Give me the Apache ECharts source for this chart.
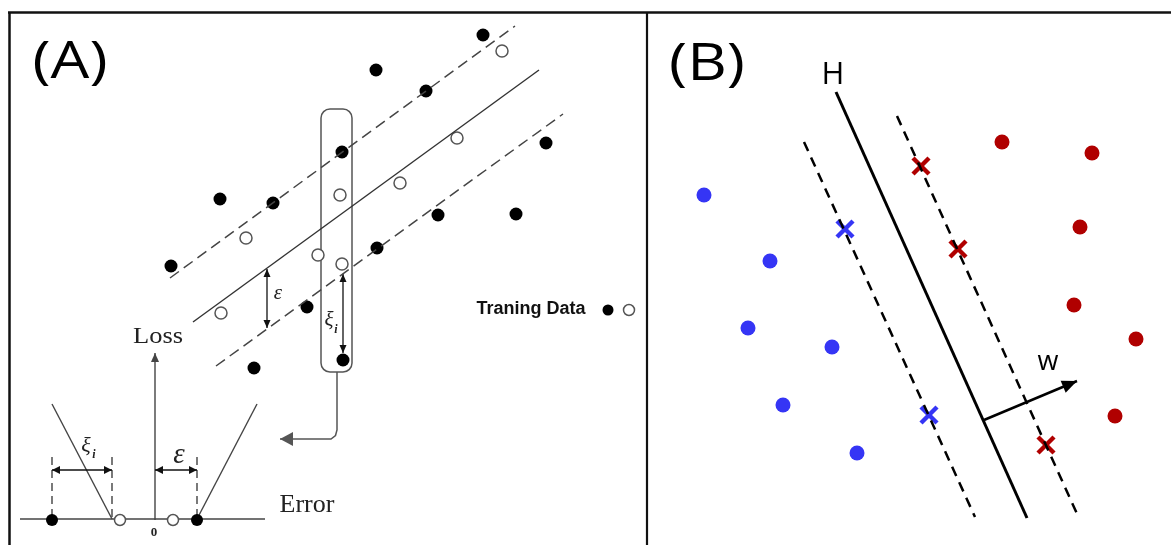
<!DOCTYPE html>
<html><head><meta charset="utf-8">
<script src="https://cdn.jsdelivr.net/npm/echarts@6/dist/echarts.min.js"></script>
<style>html,body{margin:0;padding:0;background:#fff}#c{width:1171px;height:545px}</style>
</head><body><div id="c"></div>
<script>
// ---------- Panel A : regression training data ----------
const filledA = [[376,70],[483,35],[426,91],[342,152],[220,199],[273,203],[171,266],[546,143],[438,215],[516,214],[377,248],[307,307],[254,368],[343,360]];
const openA = [[502,51],[457,138],[400,183],[340,195],[246,238],[318,255],[342,264],[221,313]];
const centerLineA = [[193,322],[539,70]];
const upperLineA = [[170,278],[515,26]];
const lowerLineA = [[216,366],[563,114]];
const highlightBox = [[321,109,352,372]];
const connectorA = [[337,372],[337,430],[335.5,435.5],[331,439],[280,439]];
const epsArrowA = [[267,269],[267,328]];
const xiArrowA = [[343,274],[343,353]];
// ---------- Panel A : loss function inset ----------
const errorAxis = [[20,519],[265,519]];
const lossAxis = [[155,520],[155,353]];
const lossLeft = [[52,404],[112,519]];
const lossRight = [[197,519],[257,404]];
const dashedMarks = [[[52,457],[52,519]],[[112,457],[112,519]],[[197,457],[197,519]]];
const xiArrowLoss = [[52,470],[112,470]];
const epsArrowLoss = [[155,470],[197,470]];
const filledLoss = [[52,520],[197,520]];
const openLoss = [[120,520],[173,520]];
const legendFilled = [[608,310]];
const legendOpen = [[629,310]];
// ---------- Panel B : SVM ----------
const blueDots = [[704,195],[770,261],[748,328],[832,347],[783,405],[857,453]];
const blueCross = [[845,229],[929,415]];
const redDots = [[1002,142],[1092,153],[1080,227],[1074,305],[1136,339],[1115,416]];
const redCross = [[921,166],[958,249],[1046,445]];
const hyperplane = [[836,92],[1027,518]];
const marginLeft = [[804,142],[975,517]];
const marginRight = [[897,116],[1078,516]];
const wArrow = [[984,420],[1077,381]];
// ---------- text labels ----------
const labelTexts = ['(A)','(B)','H','w','Loss','Error','0','ε','ε','ξ','i','ξ','i','Traning Data'];
const labelAnchors = [[70,63],[707,65],[833,75],[1048,362],[158,337],[307,505],[154,533],[278,293],[179,455],[329,320],[336,330],[86,446],[94,455],[531,309]];

const SERIF = '"Liberation Serif","DejaVu Serif",serif';
const SANS = '"Open Sans","Noto Sans",sans-serif';
const labelStyles = [
  {font:'52px '+SANS, sx:1.18},
  {font:'52px '+SANS, sx:1.18},
  {font:'31px '+SANS},
  {font:'27px '+SANS},
  {font:'23px '+SERIF, sx:1.15, color:'#222'},
  {font:'26px '+SERIF, color:'#222'},
  {font:'bold 13px '+SERIF, color:'#222'},
  {font:'italic 21px '+SERIF, color:'#222'},
  {font:'italic 29px '+SERIF, color:'#222'},
  {font:'italic 21px '+SERIF, color:'#222'},
  {font:'italic bold 12px '+SERIF, color:'#222'},
  {font:'italic 22px '+SERIF, color:'#222'},
  {font:'italic bold 12px '+SERIF, color:'#222'},
  {font:'bold 18px "Liberation Sans",Arial,sans-serif', color:'#111'}
];

const GRAY = '#444';
function lineS(data, color, width, dash){
  return {type:'line', data, symbol:'none', silent:true, animation:false,
    lineStyle:{color, width, type: dash || 'solid', opacity:1}};
}
function arrowS(paths, opt){
  return {type:'custom', silent:true, animation:false, clip:false,
    data: paths.map((p,i)=>[p[0][0], p[0][1], i]),
    renderItem:(params, api)=>{
      const pts = paths[api.value(2)].map(p=>api.coord(p));
      const ch = [{type:'polyline', shape:{points:pts}, style:{stroke:opt.color, lineWidth:opt.width, fill:null, lineDash:opt.dash||null}}];
      const head = (tip, from)=>{
        const dx = tip[0]-from[0], dy = tip[1]-from[1], L = Math.hypot(dx,dy);
        const ux = dx/L, uy = dy/L, bx = tip[0]-ux*opt.len, by = tip[1]-uy*opt.len;
        return {type:'polygon', shape:{points:[tip,[bx-uy*opt.hw,by+ux*opt.hw],[bx+uy*opt.hw,by-ux*opt.hw]]}, style:{fill:opt.color}};
      };
      const n = pts.length;
      if(opt.end) ch.push(head(pts[n-1], pts[n-2]));
      if(opt.both) ch.push(head(pts[0], pts[1]));
      return {type:'group', children:ch};
    }};
}
function crossS(data, color){
  return {type:'custom', silent:true, animation:false, clip:false, data,
    renderItem:(params, api)=>{
      const c = api.coord([api.value(0), api.value(1)]), h = 8;
      const st = {stroke:color, lineWidth:4.5};
      return {type:'group', children:[
        {type:'line', shape:{x1:c[0]-h,y1:c[1]-h,x2:c[0]+h,y2:c[1]+h}, style:st},
        {type:'line', shape:{x1:c[0]-h,y1:c[1]+h,x2:c[0]+h,y2:c[1]-h}, style:st}]};
    }};
}
function dotS(data, size, color, open){
  return {type:'scatter', data, symbol:'circle', symbolSize:size, silent:true, animation:false,
    itemStyle: open ? {color:'#fff', borderColor:'#555', borderWidth:1.5, opacity:1} : {color, opacity:1}};
}

const series = [
  // panel A regression lines
  lineS(centerLineA, '#333', 1.4),
  lineS(upperLineA, GRAY, 1.5, [11,6]),
  lineS(lowerLineA, GRAY, 1.5, [11,6]),
  {type:'custom', silent:true, animation:false, clip:false, data:highlightBox,
    renderItem:(params, api)=>{
      const a = api.coord([api.value(0), api.value(1)]), b = api.coord([api.value(2), api.value(3)]);
      return {type:'rect', shape:{x:Math.min(a[0],b[0]), y:Math.min(a[1],b[1]), width:Math.abs(b[0]-a[0]), height:Math.abs(b[1]-a[1]), r:9},
        style:{fill:null, stroke:'#555', lineWidth:1.5}};
    }},
  arrowS([connectorA], {color:'#555', width:1.5, len:13, hw:7, end:true}),
  arrowS([epsArrowA, xiArrowA], {color:'#111', width:1.3, len:8, hw:3.5, end:true, both:true}),
  // loss inset
  arrowS([errorAxis, lossLeft, lossRight], {color:GRAY, width:1.4}),
  arrowS([lossAxis], {color:GRAY, width:1.4, len:9, hw:4, end:true}),
  arrowS(dashedMarks, {color:'#333', width:1.3, dash:[8,5]}),
  arrowS([xiArrowLoss, epsArrowLoss], {color:'#111', width:1.3, len:8, hw:4, end:true, both:true}),
  dotS(filledA, 13, '#000'),
  dotS(openA, 12, null, true),
  dotS(filledLoss, 12, '#000'),
  dotS(openLoss, 11, null, true),
  dotS(legendFilled, 11, '#000'),
  dotS(legendOpen, 11, null, true),
  // panel B
  lineS(marginLeft, '#000', 2.5, [10,7]),
  lineS(marginRight, '#000', 2.5, [10,7]),
  lineS(hyperplane, '#000', 3),
  arrowS([wArrow], {color:'#000', width:2.5, len:15, hw:6.5, end:true}),
  dotS(blueDots, 15, '#3535f5'),
  dotS(redDots, 15, '#b00000'),
  crossS(blueCross, '#3535f5'),
  crossS(redCross, '#b00000'),
  // labels
  {type:'custom', silent:true, animation:false, clip:false,
    data: labelAnchors.map((p,i)=>[p[0], p[1], i]),
    renderItem:(params, api)=>{
      const i = api.value(2), pt = api.coord([api.value(0), api.value(1)]), s = labelStyles[i];
      return {type:'text', x:pt[0], y:pt[1], scaleX:s.sx||1,
        style:{text:labelTexts[i], font:s.font, fill:s.color||'#000', align:'center', verticalAlign:'middle'}};
    }}
];

const chart = echarts.init(document.getElementById('c'), null, {renderer:'canvas'});
chart.setOption({
  animation:false,
  backgroundColor:'#fff',
  grid:{left:0, right:0, top:0, bottom:0},
  xAxis:{type:'value', min:0, max:1171, show:false},
  yAxis:{type:'value', min:0, max:545, inverse:true, show:false},
  graphic:[
    {type:'line', shape:{x1:8, y1:12.5, x2:1171, y2:12.5}, style:{stroke:'#111', lineWidth:2.5}},
    {type:'line', shape:{x1:9.5, y1:12, x2:9.5, y2:545}, style:{stroke:'#111', lineWidth:2.5}},
    {type:'line', shape:{x1:647, y1:12, x2:647, y2:545}, style:{stroke:'#111', lineWidth:2.2}}
  ],
  series
});
</script></body></html>
